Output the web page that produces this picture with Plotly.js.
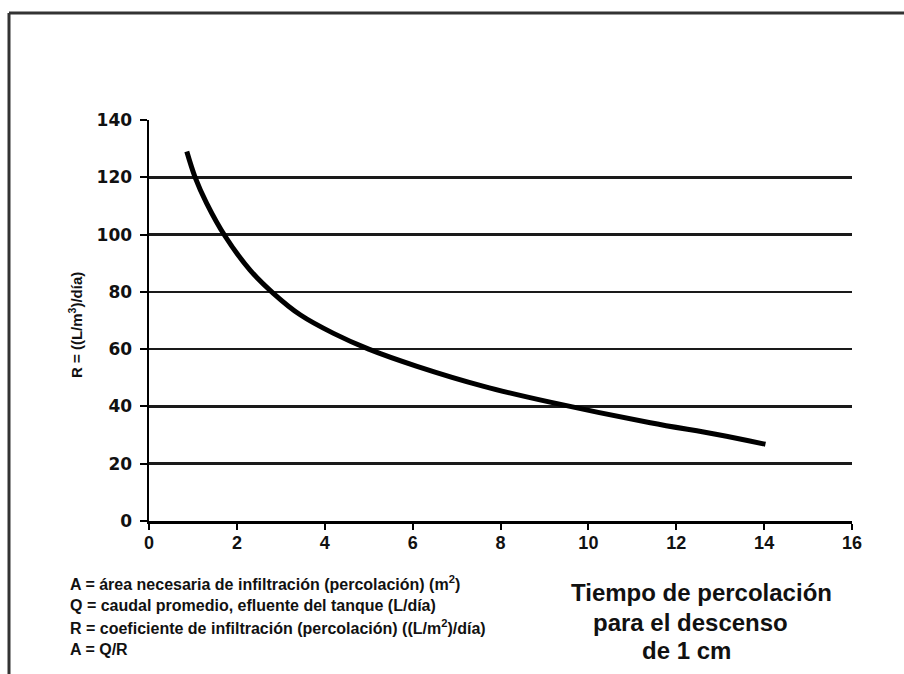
<!DOCTYPE html>
<html>
<head>
<meta charset="utf-8">
<script src="https://cdn.plot.ly/plotly-3.0.1.min.js"></script>
<style>html,body{margin:0;padding:0;background:#fff;}#chart{width:904px;height:674px;}</style>
</head>
<body>
<div id="chart"></div>
<script>
// ---- data ----
const percTime = [0.86, 1.05, 1.31, 1.73, 2.30, 2.83, 3.44, 4.2, 5.0, 6.1, 7.62, 9.13, 11.41, 12.93, 14.03];
const rValues  = [129, 120, 111, 99.5, 87.6, 79.5, 72, 65.5, 60, 54, 47, 41.5, 34.3, 30.2, 26.8];
const xTicks = [0, 2, 4, 6, 8, 10, 12, 14, 16];
const yTicks = [0, 20, 40, 60, 80, 100, 120, 140];
const gridVals = [20, 40, 60, 80, 100, 120];
const yTitle = "R = ((L/m<sup>3</sup>)/día)";
const notes = [
  "A = área necesaria de infiltración (percolación) (m<sup>2</sup>)",
  "Q = caudal promedio, efluente del tanque (L/día)",
  "R = coeficiente de infiltración (percolación) ((L/m<sup>2</sup>)/día)",
  "A = Q/R"
];
const xTitleLines = ["Tiempo de percolación", "para el descenso", "de 1 cm"];

// ---- geometry helpers (pixel -> paper) ----
const W = 904, H = 674;
const M = {l: 149, r: 52, t: 120, b: 153};
const PW = W - M.l - M.r, PH = H - M.t - M.b;
const px = x => (x - M.l) / PW;
const py = y => (H - M.b - y) / PH;

const noteY = [583, 605, 627, 649];
const titleX = [701, 690, 686];
const titleY = [592, 622, 650];

const annotations = [];
annotations.push({
  xref: 'paper', yref: 'paper', x: px(75), y: py(325), xanchor: 'center', yanchor: 'middle',
  text: '<b>' + yTitle + '</b>', textangle: -90, showarrow: false,
  font: {family: 'Liberation Sans, Arial, sans-serif', size: 15, color: '#111'}
});
notes.forEach((t, i) => annotations.push({
  xref: 'paper', yref: 'paper', x: px(68), y: py(noteY[i]), xanchor: 'left', yanchor: 'middle',
  text: '<b>' + t + '</b>', showarrow: false,
  font: {family: 'Liberation Sans, Arial, sans-serif', size: 16, color: '#111'}
}));
xTitleLines.forEach((t, i) => annotations.push({
  xref: 'paper', yref: 'paper', x: px(titleX[i]), y: py(titleY[i]), xanchor: 'center', yanchor: 'middle',
  text: '<b>' + t + '</b>', showarrow: false,
  font: {family: 'Liberation Sans, Arial, sans-serif', size: 24, color: '#111'}
}));

const shapes = [
  {type: 'line', xref: 'paper', yref: 'paper', x0: px(9), x1: px(904), y0: py(13), y1: py(13), line: {color: '#333', width: 3}},
  {type: 'line', xref: 'paper', yref: 'paper', x0: px(9), x1: px(9), y0: py(13), y1: py(674), line: {color: '#333', width: 3}}
];

const traces = [
  {x: percTime, y: rValues, type: 'scatter', mode: 'lines', line: {color: '#000', width: 5, shape: 'spline', smoothing: 1}, hoverinfo: 'skip', showlegend: false},
  {x: [], y: [], type: 'scatter', mode: 'lines', yaxis: 'y2', hoverinfo: 'skip', showlegend: false}
];

const layout = {
  width: W, height: H,
  margin: M,
  paper_bgcolor: '#fff', plot_bgcolor: '#fff',
  showlegend: false,
  xaxis: {
    range: [0, 16], tickvals: xTicks, ticktext: xTicks.map(String),
    showgrid: false, zeroline: false, showline: true, linecolor: '#000', linewidth: 3,
    ticks: 'outside', ticklen: 6, tickwidth: 2, tickcolor: '#000', ticklabelstandoff: -3,
    tickfont: {family: 'Liberation Sans, Arial, sans-serif', size: 18, color: '#111', weight: 'bold'}
  },
  yaxis: {
    range: [0, 140], tickvals: yTicks, ticktext: yTicks.map(String),
    showgrid: false, zeroline: false, showline: true, linecolor: '#000', linewidth: 2.5,
    ticks: 'outside', ticklen: 7, tickwidth: 2, tickcolor: '#000', ticklabelstandoff: 4,
    tickfont: {family: 'DejaVu Sans, sans-serif', size: 17, color: '#111', weight: 'bold'}
  },
  yaxis2: {
    overlaying: 'y', side: 'left', range: [0, 140], tickvals: gridVals,
    showticklabels: false, ticks: '', showline: false, zeroline: false,
    showgrid: true, gridcolor: '#1a1a1a', gridwidth: 2.5
  },
  annotations: annotations,
  shapes: shapes
};

Plotly.newPlot('chart', traces, layout, {staticPlot: true, displayModeBar: false});
</script>
</body>
</html>
